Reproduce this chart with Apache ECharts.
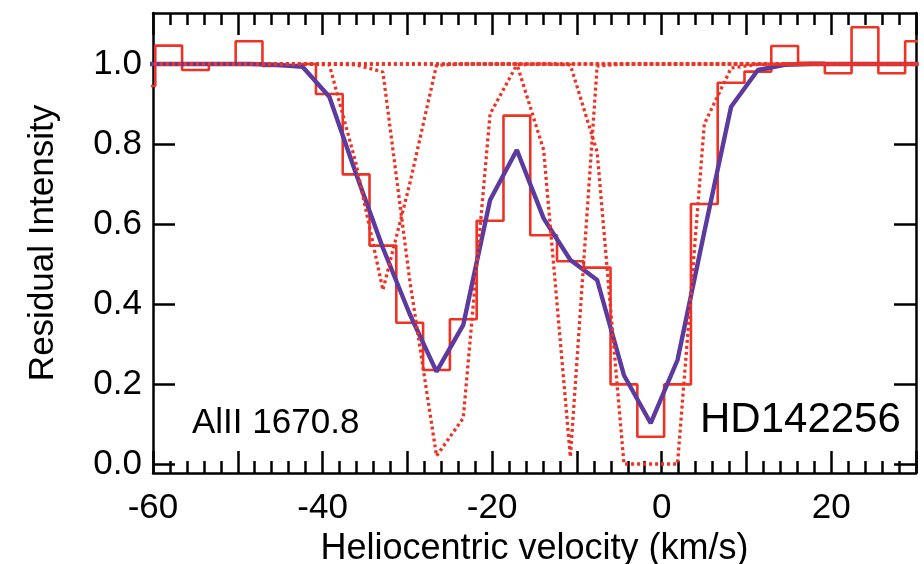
<!DOCTYPE html>
<html>
<head>
<meta charset="utf-8">
<script src="https://cdn.jsdelivr.net/npm/echarts@6/dist/echarts.min.js"></script>
<style>
html,body{margin:0;padding:0;background:#fff;}
#chart{width:924px;height:564px;}
</style>
</head>
<body>
<div id="chart"></div>
<script>
// Bin centres (km/s)
const velocity = [-61.31, -58.15, -54.99, -51.83, -48.67, -45.51, -42.36, -39.20, -36.04, -32.88,
  -29.72, -26.56, -23.40, -20.24, -17.08, -13.92, -10.77, -7.61, -4.45, -1.29,
  1.87, 5.03, 8.19, 11.35, 14.51, 17.67, 20.82, 23.98, 27.14, 30.30];
// Observed spectrum (histogram)
const observed = [0.945, 1.046, 0.985, 1.000, 1.057, 0.995, 1.000, 0.925, 0.724, 0.546,
  0.353, 0.235, 0.362, 0.608, 0.871, 0.572, 0.507, 0.491, 0.199, 0.068,
  0.199, 0.650, 0.953, 0.981, 1.045, 1.003, 0.977, 1.092, 0.977, 1.057];
// Total fit (purple)
const model = [1.000, 1.000, 1.000, 1.000, 1.000, 0.998, 0.993, 0.918, 0.725, 0.540,
  0.375, 0.231, 0.348, 0.660, 0.785, 0.614, 0.510, 0.460, 0.222, 0.102,
  0.260, 0.580, 0.893, 0.985, 0.998, 1.000, 1.000, 1.000, 1.000, 1.000];
// Individual components (dotted)
const compA = [1, 1, 1, 1, 1, 1, 1, 0.998, 0.750, 0.435,
  0.700, 0.997, 1, 1, 1, 1, 1, 1, 1, 1,
  1, 1, 1, 1, 1, 1, 1, 1, 1, 1];
const compB = [1, 1, 1, 1, 1, 1, 1, 1, 0.998, 0.980,
  0.460, 0.020, 0.115, 0.875, 0.998, 1, 1, 1, 1, 1,
  1, 1, 1, 1, 1, 1, 1, 1, 1, 1];
const compC = [1, 1, 1, 1, 1, 1, 1, 1, 1, 1,
  1, 1, 1, 1, 1.000, 0.785, 0.018, 0.995, 1, 1,
  1, 1, 1, 1, 1, 1, 1, 1, 1, 1];
const compD = [1, 1, 1, 1, 1, 1, 1, 1, 1, 1,
  1, 1, 1, 1, 1, 1.000, 0.998, 0.780, 0.000, 0.000,
  0.000, 0.850, 0.990, 0.999, 1, 1, 1, 1, 1, 1];
const yTicks = [0.0, 0.2, 0.4, 0.6, 0.8, 1.0];
const ionLabel = 'AlII 1670.8';
const starLabel = 'HD142256';

const pair = arr => velocity.map((v, i) => [v, arr[i]]);
const FONT = '"Liberation Sans", Arial, Helvetica, sans-serif';
const RED = '#ee3325';
const PURPLE = '#5c3a9e';

const chart = echarts.init(document.getElementById('chart'), null, {renderer: 'canvas'});

const xCommon = {
  type: 'value', min: -60, max: 30, interval: 10,
  axisLine: {show: true, onZero: false, lineStyle: {color: '#000', width: 2.5}},
  axisTick: {show: true, inside: true, length: 22, lineStyle: {color: '#000', width: 2.5}},
  minorTick: {show: true, splitNumber: 5, length: 12, lineStyle: {color: '#000', width: 2.5}},
  splitLine: {show: false}
};
const yCommon = {
  type: 'value', min: -0.0225, max: 1.1275,
  axisLine: {show: true, onZero: false, lineStyle: {color: '#000', width: 2.5}},
  axisTick: {show: true, inside: true, length: 22, customValues: yTicks, lineStyle: {color: '#000', width: 2.5}},
  splitLine: {show: false}
};

const dotted = (data) => ({
  type: 'line', data: pair(data), showSymbol: false, symbol: 'none',
  lineStyle: {color: RED, width: 3.3, type: [3, 3]}, z: 4, silent: true
});

chart.setOption({
  animation: false,
  backgroundColor: '#fff',
  grid: {left: 153, right: 8, top: 13, bottom: 91, containLabel: false, outerBoundsMode: 'none'},
  xAxis: [
    Object.assign({}, xCommon, {
      position: 'bottom',
      name: 'Heliocentric velocity (km/s)', nameLocation: 'middle', nameGap: 51,
      nameTextStyle: {fontFamily: FONT, fontSize: 36, color: '#000'},
      axisLabel: {show: true, margin: 18, fontFamily: FONT, fontSize: 35, color: '#000',
        showMinLabel: true, showMaxLabel: true,
        formatter: v => (Math.round(v) % 20 === 0 ? String(Math.round(v)) : '')}
    }),
    Object.assign({}, xCommon, {position: 'top', axisLabel: {show: false}})
  ],
  yAxis: [
    Object.assign({}, yCommon, {
      position: 'left',
      name: 'Residual Intensity', nameLocation: 'middle', nameGap: 92,
      nameTextStyle: {fontFamily: FONT, fontSize: 35, color: '#000'},
      axisLabel: {show: true, margin: 11, customValues: yTicks, fontFamily: FONT, fontSize: 35, color: '#000',
        formatter: v => v.toFixed(1)}
    }),
    Object.assign({}, yCommon, {position: 'right', axisLabel: {show: false}})
  ],
  graphic: [
    {type: 'text', left: 192, top: 406, z: 10,
      style: {text: ionLabel, fontFamily: FONT, fontSize: 35, fill: '#000'}},
    {type: 'text', left: 700, top: 399, z: 10,
      style: {text: starLabel, fontFamily: FONT, fontSize: 42, fill: '#000'}}
  ],
  series: [
    {type: 'line', data: pair(observed), step: 'middle', showSymbol: false, symbol: 'none',
      lineStyle: {color: RED, width: 2.6}, z: 2, silent: true},
    {type: 'line', data: pair(model), showSymbol: false, symbol: 'none',
      lineStyle: {color: PURPLE, width: 4.4}, z: 3, silent: true},
    dotted(compA), dotted(compB), dotted(compC), dotted(compD)
  ]
});
</script>
</body>
</html>
